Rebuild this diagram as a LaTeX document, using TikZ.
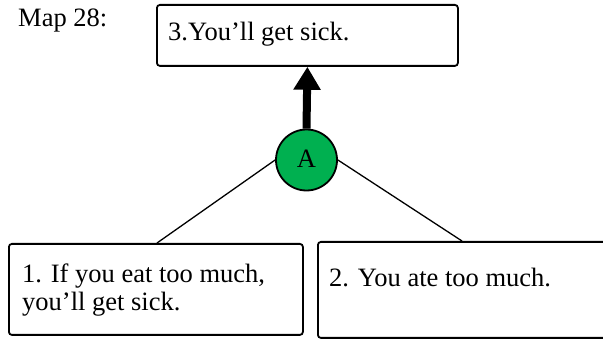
\documentclass[tikz,border=0pt]{standalone}
\usepackage{fontspec}
\setmainfont{Liberation Serif}
\usetikzlibrary{arrows.meta}
\definecolor{nodegreen}{RGB}{0,176,80}
\begin{document}
\begin{tikzpicture}[x=1pt,y=-1pt,
  box/.style={draw=black, line width=1.8pt, rounded corners=3pt, inner sep=0pt, anchor=north west},
  txt/.style={font=\fontsize{26.5}{28}\selectfont, inner sep=0pt, anchor=base west, align=left},
  link/.style={draw=black, line width=1.3pt},
  support/.style={draw=black, line width=8pt, -{Triangle[length=23pt,width=26pt]}},
  argnode/.style={circle, draw=black, fill=nodegreen, line width=1.8pt, minimum size=61pt, inner sep=0pt, font=\fontsize{26.5}{28}\selectfont}]
\clip (0,0) rectangle (603,339);
\fill[white] (0,0) rectangle (603,339);
% boxes
\node[box, minimum width=301pt, minimum height=61pt] (c) at (156,4) {};
\node[box, minimum width=294pt, minimum height=91pt] (b1) at (8,243) {};
\node[box, minimum width=320pt, minimum height=96pt] (b2) at (317,241) {};
% texts
\node[txt] (title) at (18,27) {Map 28:};
\node[txt] (t3) at (168,41) {3.You’ll get sick.};
\node[txt, anchor=north west] (t1) at (22,264) {1. If you eat too much,\\you’ll get sick.};
\node[txt] (t2) at (329,287) {2. You ate too much.};
% argument node
\node[argnode] (A) at (306.5,160) {\raisebox{3pt}{A}};
\coordinate (l1) at (157,243);
\coordinate (l2) at (462,241);
\draw[link] (A.west) -- (l1);
\draw[link] (A.east) -- (l2);
\draw[support] (A.north) -- (c.south);
\end{tikzpicture}
\end{document}
